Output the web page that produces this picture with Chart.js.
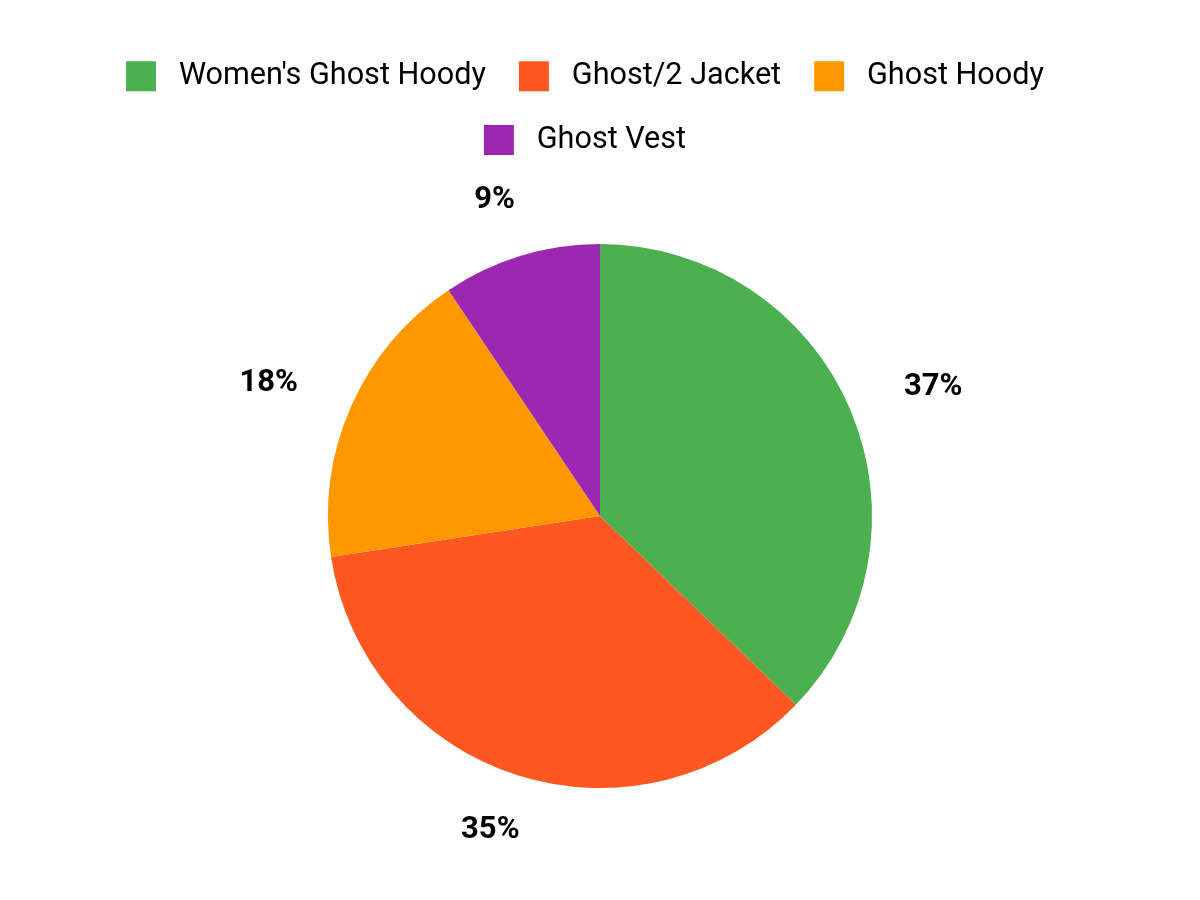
<!DOCTYPE html>
<html>
<head>
<meta charset="utf-8">
<title>Ghost sales share</title>
<script src="https://cdn.jsdelivr.net/npm/chart.js@4/dist/chart.umd.min.js"></script>
<style>
  html, body { margin: 0; padding: 0; background: #fff; }
  #wrap { width: 1200px; height: 900px; }
</style>
</head>
<body>
<div id="wrap"><canvas id="pieChart"></canvas></div>
<script>
// data
const products = ["Women's Ghost Hoody", 'Ghost/2 Jacket', 'Ghost Hoody', 'Ghost Vest'];
const shares = [37.2, 35.4, 18.0, 9.4];
const sliceColors = ['#4CAF50', '#FF5722', '#FF9800', '#9C27B0'];

// percent labels outside each slice
const outsideLabels = {
  id: 'outsideLabels',
  afterDatasetsDraw(chart) {
    const ctx = chart.ctx;
    const meta = chart.getDatasetMeta(0);
    const total = shares.reduce((a, b) => a + b, 0);
    ctx.save();
    ctx.font = 'bold 31px Roboto';
    ctx.fillStyle = '#000';
    ctx.textAlign = 'center';
    ctx.textBaseline = 'middle';
    meta.data.forEach((arc, i) => {
      const { x, y, startAngle, endAngle, outerRadius } = arc.getProps(['x', 'y', 'startAngle', 'endAngle', 'outerRadius'], true);
      const mid = (startAngle + endAngle) / 2;
      const lx = x + Math.cos(mid) * (outerRadius + 90);
      const ly = y + Math.sin(mid) * (outerRadius + 58);
      ctx.fillText(Math.round(shares[i] / total * 100) + '%', lx, ly);
    });
    ctx.restore();
  }
};

// the legend sits a bit left of the pie centre in the original
const legendNudge = {
  id: 'legendNudge',
  afterLayout(chart) {
    chart.legend.left -= 15;
    chart.legend.right -= 15;
  }
};

new Chart(document.getElementById('pieChart'), {
  type: 'pie',
  data: {
    labels: products,
    datasets: [{
      data: shares,
      backgroundColor: sliceColors,
      borderWidth: 0,
      radius: 272
    }]
  },
  options: {
    responsive: true,
    maintainAspectRatio: false,
    animation: false,
    devicePixelRatio: 1,
    layout: { padding: { top: 28, bottom: 33 } },
    plugins: {
      tooltip: { enabled: false },
      legend: {
        position: 'top',
        labels: {
          boxWidth: 30,
          boxHeight: 30,
          padding: 33,
          color: '#000',
          font: { family: 'Roboto', size: 30.6 },
          generateLabels(chart) {
            // leading space widens the gap between box and text a little
            return Chart.overrides.pie.plugins.legend.labels.generateLabels(chart).map(item => {
              item.text = ' ' + item.text;
              item.lineWidth = 0;
              return item;
            });
          }
        }
      }
    }
  },
  plugins: [outsideLabels, legendNudge]
});
</script>
</body>
</html>
